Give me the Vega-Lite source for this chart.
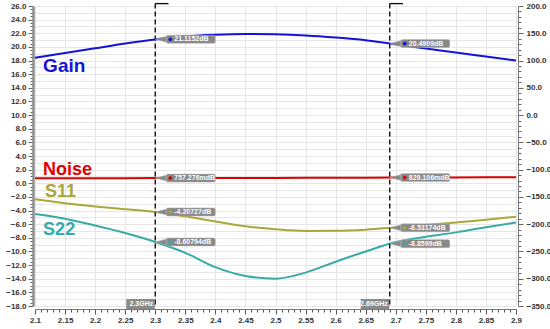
{
  "$schema": "https://vega.github.io/schema/vega-lite/v6.json",
  "width": 481,
  "height": 300,
  "autosize": {"type": "none"},
  "padding": {"left": 35, "top": 6, "right": 34, "bottom": 23},
  "background": "white",
  "config": {"view": {"stroke": null}, "font": "Liberation Sans", "axis": {"labelOverlap": false, "labelFlush": false, "labelBound": false}},
  "datasets": {
    "curves": [
      {"f": 2.1, "v": 18.4, "s": "Gain"}, {"f": 2.15, "v": 19.1, "s": "Gain"}, {"f": 2.2, "v": 19.8, "s": "Gain"}, {"f": 2.25, "v": 20.5, "s": "Gain"}, {"f": 2.3, "v": 21.1, "s": "Gain"}, {"f": 2.35, "v": 21.55, "s": "Gain"}, {"f": 2.4, "v": 21.8, "s": "Gain"}, {"f": 2.45, "v": 21.9, "s": "Gain"}, {"f": 2.5, "v": 21.85, "s": "Gain"}, {"f": 2.55, "v": 21.68, "s": "Gain"}, {"f": 2.6, "v": 21.38, "s": "Gain"}, {"f": 2.65, "v": 20.98, "s": "Gain"}, {"f": 2.7, "v": 20.37, "s": "Gain"}, {"f": 2.75, "v": 19.78, "s": "Gain"}, {"f": 2.8, "v": 19.18, "s": "Gain"}, {"f": 2.85, "v": 18.59, "s": "Gain"}, {"f": 2.9, "v": 18.0, "s": "Gain"},
      {"f": 2.1, "v": 0.74, "s": "Noise"}, {"f": 2.2, "v": 0.75, "s": "Noise"}, {"f": 2.3, "v": 0.757, "s": "Noise"}, {"f": 2.4, "v": 0.77, "s": "Noise"}, {"f": 2.5, "v": 0.79, "s": "Noise"}, {"f": 2.6, "v": 0.81, "s": "Noise"}, {"f": 2.7, "v": 0.831, "s": "Noise"}, {"f": 2.8, "v": 0.86, "s": "Noise"}, {"f": 2.9, "v": 0.88, "s": "Noise"},
      {"f": 2.1, "v": -2.35, "s": "S11"}, {"f": 2.15, "v": -2.93, "s": "S11"}, {"f": 2.2, "v": -3.4, "s": "S11"}, {"f": 2.25, "v": -3.8, "s": "S11"}, {"f": 2.3, "v": -4.21, "s": "S11"}, {"f": 2.35, "v": -4.85, "s": "S11"}, {"f": 2.4, "v": -5.6, "s": "S11"}, {"f": 2.45, "v": -6.3, "s": "S11"}, {"f": 2.5, "v": -6.75, "s": "S11"}, {"f": 2.55, "v": -7.0, "s": "S11"}, {"f": 2.6, "v": -6.98, "s": "S11"}, {"f": 2.65, "v": -6.8, "s": "S11"}, {"f": 2.7, "v": -6.47, "s": "S11"}, {"f": 2.75, "v": -6.12, "s": "S11"}, {"f": 2.8, "v": -5.75, "s": "S11"}, {"f": 2.85, "v": -5.35, "s": "S11"}, {"f": 2.9, "v": -4.9, "s": "S11"},
      {"f": 2.1, "v": -4.5, "s": "S22"}, {"f": 2.15, "v": -5.2, "s": "S22"}, {"f": 2.2, "v": -6.2, "s": "S22"}, {"f": 2.25, "v": -7.3, "s": "S22"}, {"f": 2.3, "v": -8.61, "s": "S22"}, {"f": 2.35, "v": -10.2, "s": "S22"}, {"f": 2.4, "v": -12.3, "s": "S22"}, {"f": 2.45, "v": -13.6, "s": "S22"}, {"f": 2.5, "v": -14.0, "s": "S22"}, {"f": 2.55, "v": -13.1, "s": "S22"}, {"f": 2.6, "v": -11.5, "s": "S22"}, {"f": 2.65, "v": -10.0, "s": "S22"}, {"f": 2.7, "v": -8.62, "s": "S22"}, {"f": 2.75, "v": -7.85, "s": "S22"}, {"f": 2.8, "v": -7.2, "s": "S22"}, {"f": 2.85, "v": -6.45, "s": "S22"}, {"f": 2.9, "v": -5.75, "s": "S22"}
    ],
    "readouts": [
      {"f": 2.3, "v": 21.1152, "s": "Gain", "txt": "21.1152dB"},
      {"f": 2.3, "v": 0.757276, "s": "Noise", "txt": "757.276mdB"},
      {"f": 2.3, "v": -4.20727, "s": "S11", "txt": "-4.20727dB"},
      {"f": 2.3, "v": -8.60794, "s": "S22", "txt": "-8.60794dB"},
      {"f": 2.69, "v": 20.4909, "s": "Gain", "txt": "20.4909dB"},
      {"f": 2.69, "v": 0.829106, "s": "Noise", "txt": "829.106mdB"},
      {"f": 2.69, "v": -6.53174, "s": "S11", "txt": "-6.53174dB"},
      {"f": 2.69, "v": -8.8599, "s": "S22", "txt": "-8.8599dB"}
    ],
    "names": [
      {"f": 2.1135, "v": 16.32, "s": "Gain", "txt": "Gain"},
      {"f": 2.1135, "v": 1.22, "s": "Noise", "txt": "Noise"},
      {"f": 2.1165, "v": -2.0, "s": "S11", "txt": "S11"},
      {"f": 2.1135, "v": -7.58, "s": "S22", "txt": "S22"}
    ],
    "markers": [
      {"f": 2.3, "f2": 2.322, "v": 26.35, "bot": -18, "txt": "2.3GHz"},
      {"f": 2.69, "f2": 2.712, "v": 26.35, "bot": -18, "txt": "2.69GHz"}
    ],
    "markerBottom": [
      {"f": 2.3, "v": -18, "txt": "2.3GHz"},
      {"f": 2.69, "v": -18, "txt": "2.69GHz"}
    ]
  },
  "layer": [
    {
      "encoding": {
        "x": {
          "field": "f", "type": "quantitative", "title": null,
          "scale": {"domain": [2.1, 2.9], "nice": false, "zero": false},
          "axis": {
            "values": [2.1,2.11,2.12,2.13,2.14,2.15,2.16,2.17,2.18,2.19,2.2,2.21,2.22,2.23,2.24,2.25,2.26,2.27,2.28,2.29,2.3,2.31,2.32,2.33,2.34,2.35,2.36,2.37,2.38,2.39,2.4,2.41,2.42,2.43,2.44,2.45,2.46,2.47,2.48,2.49,2.5,2.51,2.52,2.53,2.54,2.55,2.56,2.57,2.58,2.59,2.6,2.61,2.62,2.63,2.64,2.65,2.66,2.67,2.68,2.69,2.7,2.71,2.72,2.73,2.74,2.75,2.76,2.77,2.78,2.79,2.8,2.81,2.82,2.83,2.84,2.85,2.86,2.87,2.88,2.89,2.9],
            "labelExpr": "abs(datum.value*20 - round(datum.value*20)) < 0.001 ? format(datum.value, '.2~f') : ''",
            "labelOverlap": false, "labelFlush": false, "labelBound": false,
            "labelFont": "Liberation Sans", "labelFontWeight": "bold", "labelFontSize": 8, "labelColor": "#333333", "labelPadding": 2,
            "tickSize": {"condition": {"test": "abs(datum.value*20 - round(datum.value*20)) < 0.001", "value": 5}, "value": 3},
            "tickColor": "#555555", "tickWidth": 1,
            "grid": true, "gridColor": "#e6e6e6", "gridWidth": 1,
            "gridOpacity": {"condition": {"test": "abs(datum.value*20 - round(datum.value*20)) < 0.001", "value": 1}, "value": 0},
            "domainColor": "#777777", "domainWidth": 1, "offset": 3
          }
        },
        "y": {
          "field": "v", "type": "quantitative", "title": null,
          "scale": {"domain": [-18, 26], "nice": false, "zero": false},
          "axis": {
            "values": [-18,-17.5,-17,-16.5,-16,-15.5,-15,-14.5,-14,-13.5,-13,-12.5,-12,-11.5,-11,-10.5,-10,-9.5,-9,-8.5,-8,-7.5,-7,-6.5,-6,-5.5,-5,-4.5,-4,-3.5,-3,-2.5,-2,-1.5,-1,-0.5,0,0.5,1,1.5,2,2.5,3,3.5,4,4.5,5,5.5,6,6.5,7,7.5,8,8.5,9,9.5,10,10.5,11,11.5,12,12.5,13,13.5,14,14.5,15,15.5,16,16.5,17,17.5,18,18.5,19,19.5,20,20.5,21,21.5,22,22.5,23,23.5,24,24.5,25,25.5,26],
            "labelExpr": "datum.value % 2 === 0 ? format(datum.value, '.1f') : ''",
            "labelOverlap": false, "labelFlush": false, "labelBound": false,
            "labelFont": "Liberation Sans", "labelFontWeight": "bold", "labelFontSize": 8, "labelColor": "#333333", "labelPadding": 2,
            "tickSize": {"condition": {"test": "datum.value % 2 === 0", "value": 5}, "value": 3},
            "tickColor": "#666666",
            "grid": true, "gridColor": "#e6e6e6", "gridWidth": 1,
            "gridOpacity": {"condition": {"test": "datum.value % 1 === 0", "value": 1}, "value": 0},
            "domainColor": "#8f8f8f", "domainWidth": 2.5, "offset": 2
          }
        }
      },
      "layer": [
        {
          "data": {"name": "curves"},
          "mark": {"type": "line", "strokeWidth": 2, "interpolate": "monotone"},
          "encoding": {
            "color": {
              "field": "s", "type": "nominal", "legend": null,
              "scale": {"domain": ["Gain", "Noise", "S11", "S22"], "range": ["#1414d8", "#e00000", "#a8a83a", "#38aaa7"]}
            }
          }
        },
        {
          "data": {"name": "markers"},
          "mark": {"type": "rule", "color": "#111111", "strokeWidth": 1.4, "strokeDash": [5, 3]},
          "encoding": {"y2": {"field": "bot"}}
        },
        {
          "data": {"name": "markers"},
          "mark": {"type": "rule", "color": "#111111", "strokeWidth": 1.4},
          "encoding": {"x2": {"field": "f2"}}
        },
        {
          "data": {"name": "markerBottom"},
          "mark": {"type": "point", "filled": true, "opacity": 1, "size": 400, "color": "#8a8a8a", "shape": "M-2.9,-0.7 L-0.05,-0.7 L-0.05,0.3 L-2.9,0.3 Z"},
          "encoding": {}
        },
        {
          "data": {"name": "markerBottom"},
          "mark": {"type": "text", "align": "right", "baseline": "middle", "dx": -2, "dy": -2, "fontSize": 7, "fontWeight": "bold", "color": "white", "font": "Liberation Sans"},
          "encoding": {"text": {"field": "txt"}}
        },
        {
          "data": {"name": "readouts"},
          "mark": {"type": "point", "filled": true, "opacity": 1, "size": 400, "color": "#888888", "stroke": "#b5b5b5", "strokeWidth": 0.5,
            "shape": "M1.25,-0.4 L5.85,-0.4 Q6,-0.4 6,-0.25 L6,0.25 Q6,0.4 5.85,0.4 L1.25,0.4 Q1.1,0.4 1.1,0.25 L1.1,-0.25 Q1.1,-0.4 1.25,-0.4 Z M0,0 L1.15,-0.3 L1.15,0.3 Z"},
          "encoding": {}
        },
        {
          "data": {"name": "readouts"},
          "mark": {"type": "point", "filled": true, "opacity": 1, "size": 14, "xOffset": 15},
          "encoding": {"color": {"field": "s", "type": "nominal", "legend": null}}
        },
        {
          "data": {"name": "readouts"},
          "mark": {"type": "text", "align": "left", "baseline": "middle", "dx": 19, "fontSize": 7, "fontWeight": "bold", "color": "white", "font": "Liberation Sans"},
          "encoding": {"text": {"field": "txt"}}
        },
        {
          "data": {"name": "names"},
          "mark": {"type": "text", "align": "left", "baseline": "alphabetic", "fontWeight": "bold", "font": "Liberation Sans"},
          "encoding": {
            "text": {"field": "txt"},
            "color": {"field": "s", "type": "nominal", "legend": null},
            "size": {"condition": {"test": "datum.txt === 'Gain'", "value": 19}, "value": 18}
          }
        }
      ]
    },
    {
      "data": {"values": [{"r": -350}, {"r": 200}]},
      "mark": {"type": "rule", "opacity": 0},
      "encoding": {
        "y": {
          "field": "r", "type": "quantitative", "title": null,
          "scale": {"domain": [-350, 200], "nice": false, "zero": false},
          "axis": {
            "orient": "right",
            "values": [-350,-340,-330,-320,-310,-300,-290,-280,-270,-260,-250,-240,-230,-220,-210,-200,-190,-180,-170,-160,-150,-140,-130,-120,-110,-100,-90,-80,-70,-60,-50,-40,-30,-20,-10,0,10,20,30,40,50,60,70,80,90,100,110,120,130,140,150,160,170,180,190,200],
            "labelExpr": "datum.value % 50 === 0 ? format(datum.value, '.1f') : ''",
            "labelOverlap": false, "labelFlush": false, "labelBound": false,
            "labelFont": "Liberation Sans", "labelFontWeight": "bold", "labelFontSize": 8, "labelColor": "#333333", "labelPadding": 3,
            "tickSize": {"condition": {"test": "datum.value % 50 === 0", "value": 5}, "value": 3},
            "tickColor": "#666666",
            "grid": false,
            "domainColor": "#777777", "domainWidth": 1, "offset": 2
          }
        }
      }
    }
  ],
  "resolve": {"scale": {"y": "independent"}, "axis": {"y": "independent"}}
}
